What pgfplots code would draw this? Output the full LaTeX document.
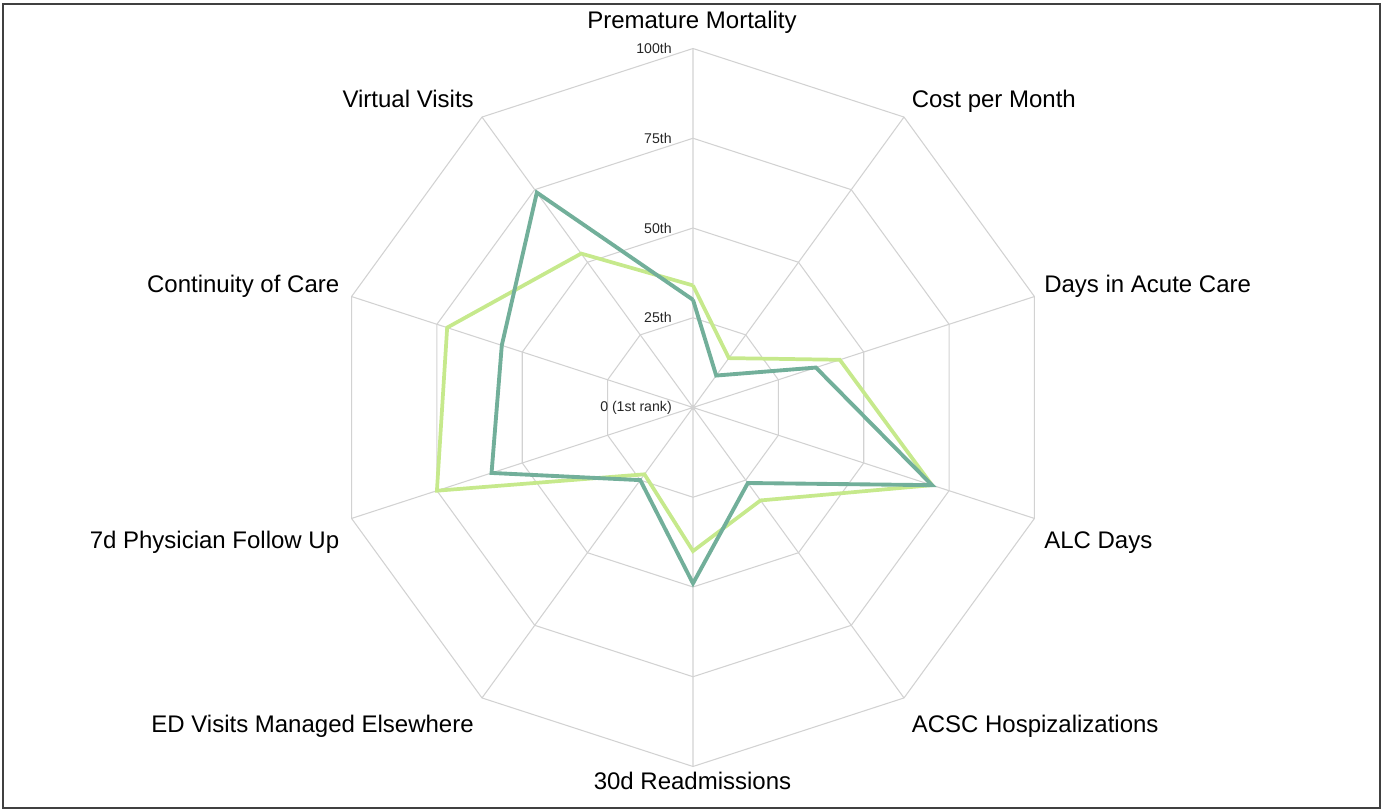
\documentclass[border=0pt]{standalone}
\usepackage{fontspec}
\setmainfont{Liberation Sans}
\usepackage{pgfplots}
\pgfplotsset{compat=1.18}
\usepgfplotslibrary{polar}
\definecolor{gridc}{HTML}{D2D2D2}
\definecolor{darkser}{HTML}{72AF9A}
\definecolor{lightser}{HTML}{C6E98C}
\definecolor{framec}{HTML}{404040}
\begin{document}
\begin{tikzpicture}
\begin{polaraxis}[
  scale only axis, width=538.5pt, height=538.5pt,
  ymin=0, ymax=100, xmin=0, xmax=360,
  hide axis, clip=false,
]
% decagon grid
\addplot[gridc, line width=0.8pt, mark=none] coordinates {(90,25) (54,25) (18,25) (342,25) (306,25) (270,25) (234,25) (198,25) (162,25) (126,25) (90,25)};
\addplot[gridc, line width=0.8pt, mark=none] coordinates {(90,50) (54,50) (18,50) (342,50) (306,50) (270,50) (234,50) (198,50) (162,50) (126,50) (90,50)};
\addplot[gridc, line width=0.8pt, mark=none] coordinates {(90,75) (54,75) (18,75) (342,75) (306,75) (270,75) (234,75) (198,75) (162,75) (126,75) (90,75)};
\addplot[gridc, line width=0.8pt, mark=none] coordinates {(90,100) (54,100) (18,100) (342,100) (306,100) (270,100) (234,100) (198,100) (162,100) (126,100) (90,100)};
% spokes
\addplot[gridc, line width=0.8pt, mark=none] coordinates {(90,100) (0,0) (54,100) (0,0) (18,100) (0,0) (342,100) (0,0) (306,100) (0,0) (270,100) (0,0) (234,100) (0,0) (198,100) (0,0) (162,100) (0,0) (126,100)};
% series
\addplot[lightser, line width=2.8pt, mark=none] coordinates {(90,34) (54,17) (18,43) (342,70) (306,32) (270,40) (234,23) (198,75) (162,72) (126,53) (90,34)};
\addplot[darkser, line width=2.9pt, mark=none] coordinates {(90,30) (54,11) (18,36) (342,70) (306,26) (270,49) (234,25) (198,59) (162,56) (126,74) (90,30)};
\coordinate (c) at (axis cs:0,0);
\end{polaraxis}
\begin{scope}[shift={(c)}, x=0.75pt, y=0.75pt]
  \path (-693,-401.5) rectangle (688,407.5);
  \draw[framec, line width=1.1pt] (-690,-400.5) rectangle (687,403.5);
  % tick labels
  \begin{scope}[every node/.style={anchor=east, inner sep=0pt, font=\fontsize{10.6pt}{12pt}\selectfont, text=black!85}]
    \node at (-21,359) {100th};
    \node at (-21,269.25) {75th};
    \node at (-21,179.5) {50th};
    \node at (-21,89.75) {25th};
    \node at (-21,0) {0 (1st rank)};
  \end{scope}
  % category labels
  \begin{scope}[every node/.style={inner sep=0pt, font=\fontsize{18pt}{21pt}\selectfont}]
    \node[anchor=base] at (-1,379.2) {Premature Mortality};
    \node[anchor=base west] at (218.5,300.2) {Cost per Month};
    \node[anchor=base west] at (351,115) {Days in Acute Care};
    \node[anchor=base west] at (351,-140.8) {ALC Days};
    \node[anchor=base west] at (218.5,-325.5) {ACSC Hospizalizations};
    \node[anchor=base] at (-0.5,-382.5) {30d Readmissions};
    \node[anchor=base east] at (-219,-325.5) {ED Visits Managed Elsewhere};
    \node[anchor=base east] at (-353.5,-140.8) {7d Physician Follow Up};
    \node[anchor=base east] at (-353.5,115) {Continuity of Care};
    \node[anchor=base east] at (-219,300.2) {Virtual Visits};
  \end{scope}
\end{scope}
\end{tikzpicture}
\end{document}
